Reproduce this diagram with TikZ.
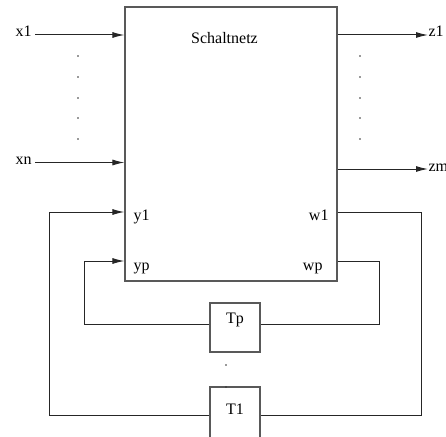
\documentclass[tikz,border=0pt]{standalone}
\usepackage{fontspec}
\setmainfont{Liberation Serif}
\usetikzlibrary{arrows.meta}
\begin{document}
\begin{tikzpicture}[x=1pt,y=-1pt,line width=1pt,
  box/.style={draw=black!65,line width=1.1pt,inner sep=0pt},
  sig/.style={draw=black!85},
  arr/.style={sig,-{Latex[length=12pt,width=6pt]}},
  lbl/.style={font=\fontsize{16}{19}\selectfont,inner sep=0pt},
  dot/.style={fill=black!80}]
\useasboundingbox (0,0) rectangle (446,436);
\clip (0,0) rectangle (446,436);

% combinational block and the two delay elements
\node[box,minimum width=212pt,minimum height=274pt] (net) at (231,144) {};
\node[lbl,anchor=base] (title) at (224.5,43) {Schaltnetz};
\node[box,minimum width=50pt,minimum height=49pt] (tp) at (235,327.5) {};
\node[lbl] (tptext) at (235,320) {Tp};
\node[box,minimum width=50pt,minimum height=60pt] (t1) at (235,417) {};
\node[lbl] (t1text) at (235,409) {T1};

% inputs x1 ... xn
\coordinate (x1s) at (35,35);
\coordinate (xns) at (35,162.5);
\draw[arr] (x1s) -- (x1s -| net.west);
\draw[arr] (xns) -- (xns -| net.west);
\node[lbl,anchor=base east] (x1l) at (32,37) {x1};
\node[lbl,anchor=base east] (xnl) at (32,164) {xn};

% outputs z1 ... zm
\coordinate (z1e) at (428,35);
\coordinate (zme) at (428,169);
\draw[arr] (z1e -| net.east) -- (z1e);
\draw[arr] (zme -| net.east) -- (zme);
\node[lbl,anchor=base west] (z1l) at (428,37) {z1};
\node[lbl,anchor=base west] (zml) at (428,171) {zm};

% ellipsis dots
\foreach \y in {56,77,98,118,139} {
  \fill[dot] (78,\y) circle (0.9pt);
  \fill[dot] (360,\y) circle (0.9pt);
}
\fill[dot] (226,365) circle (0.9pt);
\fill[dot] (226,387) circle (0.9pt);

% state feedback loops
\coordinate (tprow) at (0,324);
\coordinate (t1row) at (0,415);
\coordinate (ypc) at (84,261);
\coordinate (y1c) at (49,212);
\coordinate (wpc) at (379,261);
\coordinate (w1c) at (421,212);
\draw[arr] (tp.west |- tprow) -| (ypc) -- (ypc -| net.west);
\draw[arr] (t1.west |- t1row) -| (y1c) -- (y1c -| net.west);
\draw[sig] (wpc -| net.east) -- (wpc) |- (tp.east |- tprow);
\draw[sig] (w1c -| net.east) -- (w1c) |- (t1.east |- t1row);

\node[lbl,anchor=base west] (y1l) at (133,220) {y1};
\node[lbl,anchor=base west] (ypl) at (133,270) {yp};
\node[lbl,anchor=base east] (w1l) at (329,220) {w1};
\node[lbl,anchor=base east] (wpl) at (323,270) {wp};
\end{tikzpicture}
\end{document}
